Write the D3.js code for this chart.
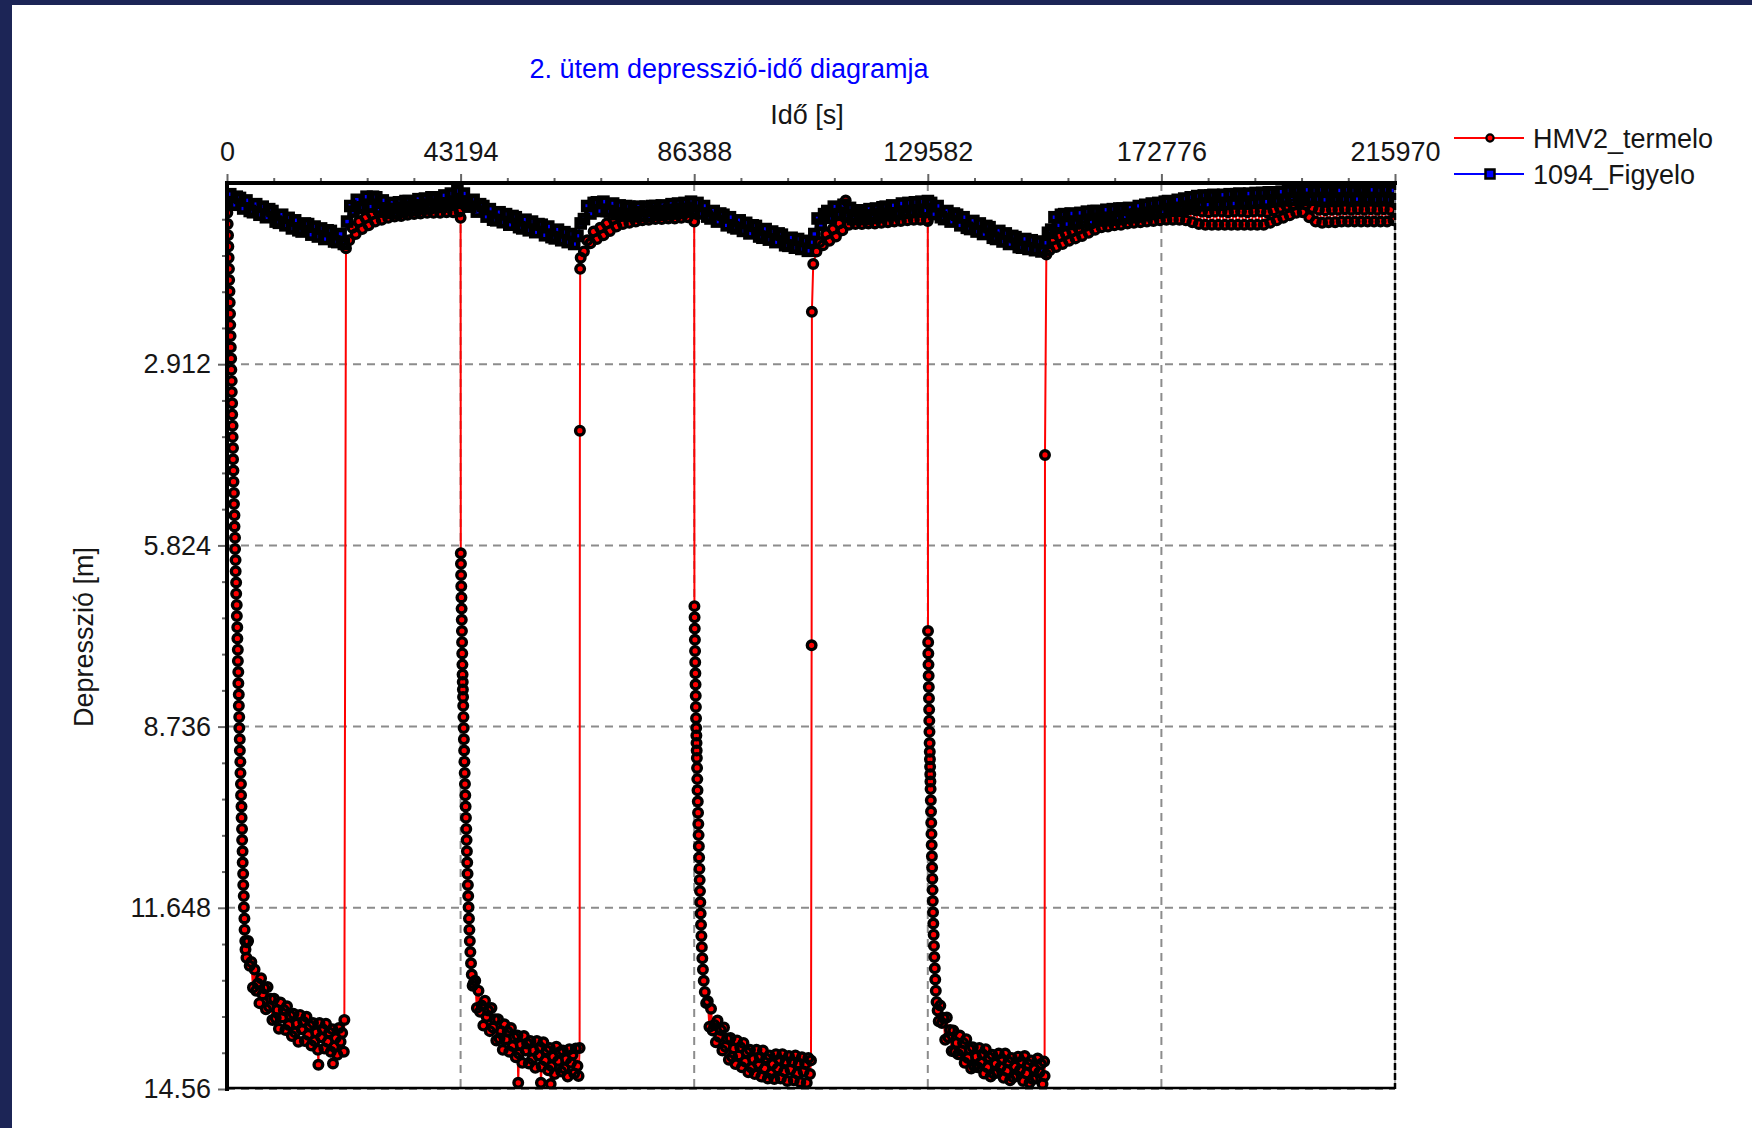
<!DOCTYPE html>
<html>
<head>
<meta charset="utf-8">
<script src="https://cdn.jsdelivr.net/npm/d3@7"></script>
<style>
body { margin: 0; background: #fff; }
svg text { font-family: "Liberation Sans", Arial, sans-serif; font-size: 27px; }
</style>
</head>
<body>
<svg id="chart" width="1762" height="1128"></svg>
<script>
const chartTitle = "2. ütem depresszió-idő diagramja";
const xTitle = "Idő [s]";
const yTitle = "Depresszió [m]";
const xTicks = [0, 43194, 86388, 129582, 172776, 215970];
const yTicks = [2.912, 5.824, 8.736, 11.648, 14.56];
const seriesNames = ["HMV2_termelo", "1094_Figyelo"];

// HMV2_termelo : [time s, depression m]
const hmv2Pump1 = [[0,.30],[60,.48],[120,.66],[190,.84],[250,1.02],[300,1.20],[360,1.38],[400,1.56],[460,1.74],[500,1.92],[560,2.10],[600,2.28],[660,2.46],[700,2.64],[770,2.82],[800,3.00],[870,3.18],[880,3.36],[950,3.54],[960,3.72],[1030,3.90],[1040,4.08],[1110,4.26],[1120,4.44],[1190,4.62],[1200,4.80],[1280,4.98],[1290,5.16],[1380,5.34],[1390,5.52],[1480,5.70],[1490,5.88],[1580,6.06],[1600,6.24],[1690,6.42],[1700,6.60],[1800,6.78],[1820,6.96],[1900,7.14],[1920,7.32],[2000,7.50],[2010,7.68],[2090,7.86],[2100,8.04],[2180,8.22],[2190,8.40],[2260,8.58],[2280,8.76],[2360,8.94],[2380,9.12],[2470,9.30],[2490,9.48],[2580,9.66],[2600,9.84],[2680,10.02],[2700,10.20],[2780,10.38],[2800,10.56],[2880,10.74],[2900,10.92],[2990,11.10],[3010,11.28],[3100,11.46],[3120,11.64],[3220,11.82],[3250,12.00],[3380,12.18],[3420,12.32],[3600,12.45],[3700,12.20],
  [3900,12.18],[4200,12.58],[4500,12.52],[4800,12.93],[5100,12.64],[5400,12.98],[5700,12.87],[6000,13.18],[6300,12.78],[6600,13.04],[6900,12.94],[7200,13.28],[7500,12.92],[7800,13.24],[8100,13.11],[8400,13.45],[8700,13.11],[9000,13.42],[9300,13.29],[9600,13.59],[9900,13.17],[10200,13.41],[10500,13.29],[10800,13.61],[11100,13.23],[11400,13.53],[11700,13.38],[12000,13.71],[12300,13.35],[12600,13.65],[12900,13.51],[13200,13.80],[13500,13.37],[13800,13.60],[14100,13.48],[14400,13.79],[14700,13.40],[15000,13.69],[15300,13.54],[15600,13.86],[15900,13.50],[16200,13.79],[16500,13.65],[16800,13.93],[16900,14.17],[17100,13.50],[17400,13.73],[17700,13.60],[18000,13.91],[18300,13.51],[18600,13.80],[18900,13.65],[19200,13.96],[19500,13.60],[19600,14.15],[19800,13.88],[20100,13.74],[20400,14.01],[20700,13.58],[21000,13.80],[21300,13.66],[21600,13.96],[21700,13.45]];
const hmv2Rest1 = [[22000,1.05],[22600,.92],[23200,.72],[23800,.82],[24400,.62],[25000,.74],[25600,.56],[26200,.68],[26800,.50],[27400,.62],[28000,.46],[28600,.59],[29200,.44],[29800,.56],[30400,.41],[31000,.54],[31600,.39],[32200,.53],[32800,.37],[33400,.51],[34000,.36],[34600,.50],[35200,.35],[35800,.49],[36400,.34],[37000,.48],[37600,.33],[38200,.48],[38800,.33],[39400,.48],[40000,.32],[40600,.47],[41200,.31],[41800,.47],[42400,.30],[43000,.46],[43194,.56]];
const hmv2Pump2 = [[43230,5.95],[43260,6.12],[43290,6.30],[43320,6.48],[43350,6.66],[43380,6.84],[43410,7.02],[43440,7.20],[43470,7.38],[43500,7.56],[43530,7.74],[43560,7.90],[43590,8.02],[43620,8.14],[43650,8.26],[43680,8.40],[43720,8.58],[43760,8.76],[43800,8.94],[43850,9.12],[43900,9.30],[43950,9.48],[44000,9.66],[44060,9.84],[44120,10.02],[44180,10.20],[44240,10.38],[44300,10.56],[44360,10.74],[44420,10.92],[44480,11.10],[44540,11.28],[44600,11.46],[44670,11.64],[44740,11.82],[44820,12.00],[44900,12.18],[45000,12.36],[45120,12.54],[45260,12.72],[45420,12.90],
  [45600,12.86],[45900,12.82],[46200,13.26],[46500,12.98],[46800,13.32],[47100,13.22],[47400,13.54],[47700,13.14],[48000,13.40],[48300,13.30],[48600,13.63],[48900,13.26],[49200,13.57],[49500,13.44],[49800,13.78],[50100,13.44],[50400,13.75],[50700,13.63],[51000,13.93],[51300,13.52],[51600,13.76],[51900,13.64],[52200,13.96],[52500,13.58],[52800,13.87],[53100,13.73],[53400,14.05],[53700,13.70],[53850,14.46],[54000,13.99],[54300,13.85],[54600,14.14],[54900,13.71],[55200,13.94],[55500,13.83],[55800,14.15],[56100,13.79],[56400,14.08],[56700,13.94],[57000,14.22],[57300,13.79],[57600,14.02],[57900,13.89],[58050,14.46],[58200,14.20],[58500,13.81],[58800,14.10],[59100,13.94],[59400,14.26],[59700,13.90],[59850,14.48],[60000,14.19],[60300,14.04],[60600,14.32],[60900,13.88],[61200,14.11],[61500,13.97],[61800,14.28],[62100,13.94],[62400,14.23],[62700,14.08],[63000,14.36],[63300,13.92],[63600,14.14],[63900,14.01],[64200,14.31],[64500,13.91],[64800,14.19],[65000,14.35],[65200,13.90]];
const hmv2Rest2 = [[65250,3.98],[65300,1.38],[65400,1.20],[66000,1.10],[66600,.92],[67200,.97],[67800,.78],[68400,.90],[69000,.72],[69600,.84],[70200,.65],[70800,.77],[71400,.58],[72000,.70],[72600,.53],[73200,.66],[73800,.50],[74400,.64],[75000,.48],[75600,.62],[76200,.46],[76800,.60],[77400,.45],[78000,.59],[78600,.44],[79200,.58],[79800,.43],[80400,.58],[81000,.43],[81600,.57],[82200,.42],[82800,.57],[83400,.41],[84000,.56],[84600,.41],[85200,.55],[85800,.40],[86388,.62]];
const hmv2Pump3 = [[86430,6.80],[86460,6.98],[86490,7.16],[86520,7.34],[86550,7.52],[86580,7.70],[86610,7.88],[86640,8.06],[86670,8.24],[86700,8.42],[86730,8.60],[86760,8.76],[86790,8.88],[86820,9.00],[86850,9.12],[86880,9.24],[86920,9.40],[86960,9.58],[87000,9.76],[87050,9.94],[87100,10.12],[87150,10.30],[87200,10.48],[87250,10.66],[87300,10.84],[87350,11.02],[87400,11.20],[87460,11.38],[87520,11.56],[87580,11.74],[87650,11.92],[87720,12.10],[87800,12.28],[87890,12.46],[88000,12.64],[88150,12.82],[88350,13.00],[88600,13.18],
  [88900,13.15],[89200,13.56],[89500,13.27],[89800,13.62],[90100,13.53],[90400,13.81],[90700,13.46],[91000,13.72],[91300,13.61],[91600,13.94],[91900,13.57],[92200,13.88],[92500,13.75],[92800,14.09],[93100,13.74],[93400,14.04],[93700,13.91],[94000,14.16],[94300,13.78],[94600,14.02],[94900,13.89],[95200,14.21],[95500,13.82],[95800,14.12],[96100,13.97],[96400,14.29],[96700,13.93],[97000,14.22],[97300,14.08],[97600,14.32],[97900,13.93],[98200,14.16],[98500,14.05],[98800,14.36],[99100,13.94],[99400,14.23],[99700,14.07],[100000,14.39],[100300,14.02],[100600,14.31],[100900,14.16],[101200,14.40],[101500,14.00],[101800,14.23],[102100,14.09],[102400,14.39],[102700,14.00],[103000,14.28],[103300,14.12],[103600,14.43],[103900,14.03],[104200,14.25],[104500,14.12],[104800,14.42],[105100,14.02],[105400,14.31],[105700,14.15],[106000,14.45],[106300,14.05],[106600,14.28],[106900,14.16],[107200,14.46],[107500,14.06],[107800,14.32],[107985,14.10]];
const hmv2Rest3 = [[108100,7.43],[108150,2.07],[108400,1.30],[109000,1.10],[109600,.95],[110200,1.00],[110800,.82],[111400,.93],[112000,.74],[112600,.86],[113200,.65],[113800,.76],[114400,.28],[115000,.67],[115600,.52],[116200,.66],[116800,.51],[117400,.66],[118000,.50],[118600,.65],[119200,.50],[119800,.65],[120400,.49],[121000,.64],[121600,.49],[122200,.63],[122800,.48],[123400,.62],[124000,.47],[124600,.61],[125200,.46],[125800,.60],[126400,.45],[127000,.59],[127600,.45],[128200,.59],[128800,.44],[129400,.59],[129582,.61]];
const hmv2Pump4 = [[129620,7.20],[129650,7.38],[129680,7.56],[129710,7.74],[129740,7.92],[129770,8.10],[129800,8.28],[129830,8.46],[129860,8.64],[129890,8.82],[129920,9.00],[129950,9.14],[129980,9.26],[130010,9.38],[130040,9.50],[130070,9.62],[130100,9.74],[130140,9.92],[130180,10.10],[130220,10.28],[130260,10.46],[130300,10.64],[130340,10.82],[130380,11.00],[130420,11.18],[130460,11.36],[130500,11.54],[130550,11.72],[130600,11.90],[130660,12.08],[130720,12.26],[130790,12.44],[130870,12.62],[130960,12.80],[131060,12.98],[131200,13.16],[131400,13.30],
  [131600,13.47],[131900,13.22],[132200,13.50],[132500,13.42],[132800,13.77],[133100,13.41],[133400,13.73],[133700,13.61],[134000,13.95],[134300,13.62],[134600,13.96],[134900,13.82],[135200,14.00],[135500,13.70],[135800,13.94],[136100,13.82],[136400,14.14],[136700,13.76],[137000,14.06],[137300,13.92],[137600,14.23],[137900,13.89],[138200,14.20],[138500,14.04],[138800,14.21],[139100,13.90],[139400,14.13],[139700,14.00],[140000,14.31],[140300,13.92],[140600,14.21],[140900,14.05],[141200,14.36],[141500,14.01],[141800,14.31],[142100,14.15],[142400,14.30],[142700,13.99],[143000,14.21],[143300,14.08],[143600,14.38],[143900,13.99],[144200,14.27],[144500,14.12],[144800,14.42],[145100,14.06],[145400,14.37],[145700,14.20],[146000,14.35],[146300,14.04],[146600,14.26],[146900,14.12],[147200,14.43],[147500,14.03],[147800,14.31],[148100,14.16],[148400,14.46],[148700,14.10],[149000,14.40],[149300,14.24],[149600,14.39],[149900,14.07],[150200,14.29],[150500,14.16],[150800,14.48],[151100,14.12],[151179,14.35]];
const hmv2Rest4 = [[151250,4.37],[151500,1.15],[152100,1.08],[152700,.90],[153300,1.03],[153900,.86],[154500,.98],[155100,.82],[155700,.93],[156300,.78],[156900,.89],[157500,.74],[158100,.85],[158700,.69],[159300,.80],[159900,.65],[160500,.75],[161100,.60],[161700,.71],[162300,.56],[162900,.70],[163500,.55],[164100,.68],[164700,.53],[165300,.67],[165900,.52],[166500,.65],[167100,.50],[167700,.64],[168300,.49],[168900,.63],[169500,.48],[170100,.62],[170700,.46],[171300,.61],[171900,.45],[172500,.60],[173100,.44],[173700,.59],[174300,.44],[174900,.59],[175500,.42],[176100,.59],[176700,.42],[177300,.60],[177900,.42],[178500,.63],[179100,.44],[179700,.66],[180300,.46],[180900,.67],[181500,.47],[182100,.67],[182700,.46],[183300,.67],[183900,.46],[184500,.67],[185100,.47],[185700,.67],[186300,.46],[186900,.67],[187500,.46],[188100,.67],[188700,.47],[189300,.67],[189900,.46],[190500,.67],[191100,.46],[191700,.67],[192300,.47],[192900,.64],[193500,.44],[194100,.60],[194700,.40],[195300,.56],[195900,.37],[196500,.52],[197100,.34],[197700,.48],[198300,.32],[198900,.47],[199500,.34],[200100,.55],[200700,.40],[201300,.62],[201900,.43],[202500,.64],[203100,.44],[203700,.63],[204300,.43],[204900,.63],[205500,.43],[206100,.62],[206700,.42],[207300,.62],[207900,.43],[208500,.62],[209100,.42],[209700,.62],[210300,.43],[210900,.62],[211500,.42],[212100,.62],[212700,.43],[213300,.62],[213900,.42],[214500,.62],[215100,.43],[215700,.60],[215970,.56]];

// 1094_Figyelo : [time s, depression m]
const figyelo1 = [[0,.31],[600,.18],[1200,.35],[1800,.22],[2400,.24],[3000,.41],[3600,.28],[4200,.45],[4800,.47],[5400,.34],[6000,.51],[6600,.38],[7200,.55],[7800,.42],[8400,.45],[9000,.62],[9600,.64],[10200,.51],[10800,.68],[11400,.56],[12000,.73],[12600,.60],[13200,.76],[13800,.78],[14400,.65],[15000,.66],[15600,.83],[16200,.70],[16800,.86],[17400,.73],[18000,.90],[18600,.76],[19200,.77],[19800,.94],[20400,.95],[21000,.82],[21600,.98]];
const figyelo2 = [[22200,.62],[22800,.37],[23400,.46],[24000,.27],[24600,.40],[25200,.39],[25800,.22],[26400,.38],[27000,.22],[27600,.23],[28200,.41],[28800,.28],[29400,.46],[30000,.48],[30600,.32],[31200,.48],[31800,.31],[32400,.46],[33000,.29],[33600,.29],[34200,.44],[34800,.43],[35400,.26],[36000,.41],[36600,.25],[37200,.40],[37800,.23],[38400,.23],[39000,.38],[39600,.38],[40200,.20],[40800,.35],[41400,.17],[42000,.31],[42600,.13],[43200,.30]];
const figyelo3 = [[43800,.17],[44400,.34],[45000,.38],[45600,.27],[46200,.46],[46800,.34],[47400,.37],[48000,.54],[48600,.42],[49200,.59],[49800,.60],[50400,.47],[51000,.63],[51600,.50],[52200,.67],[52800,.53],[53400,.55],[54000,.71],[54600,.73],[55200,.59],[55800,.76],[56400,.62],[57000,.79],[57600,.66],[58200,.67],[58800,.84],[59400,.70],[60000,.87],[60600,.89],[61200,.75],[61800,.92],[62400,.79],[63000,.95],[63600,.82],[64200,.98],[64800,.85]];
const figyelo4 = [[65400,.65],[66000,.58],[66600,.37],[67200,.49],[67800,.32],[68400,.31],[69000,.45],[69600,.30],[70200,.45],[70800,.46],[71400,.33],[72000,.50],[72600,.36],[73200,.52],[73800,.37],[74400,.38],[75000,.53],[75600,.53],[76200,.38],[76800,.53],[77400,.38],[78000,.53],[78600,.37],[79200,.37],[79800,.51],[80400,.36],[81000,.50],[81600,.50],[82200,.34],[82800,.49],[83400,.33],[84000,.48],[84600,.32],[85200,.46],[85800,.30],[86400,.45]];
const figyelo5 = [[87000,.32],[87600,.49],[88200,.37],[88800,.54],[89400,.57],[90000,.45],[90600,.62],[91200,.49],[91800,.51],[92400,.68],[93000,.55],[93600,.71],[94200,.73],[94800,.60],[95400,.77],[96000,.64],[96600,.81],[97200,.68],[97800,.69],[98400,.86],[99000,.88],[99600,.74],[100200,.91],[100800,.78],[101400,.95],[102000,.81],[102600,.83],[103200,1.00],[103800,1.01],[104400,.88],[105000,1.04],[105600,.90],[106200,1.06],[106800,.93],[107400,1.09],[108000,.95]];
const figyelo6 = [[108600,.82],[109200,.57],[109800,.67],[110400,.50],[111000,.45],[111600,.56],[112200,.38],[112800,.51],[113400,.50],[114000,.35],[114600,.52],[115200,.40],[115800,.58],[116400,.44],[117000,.44],[117600,.58],[118200,.57],[118800,.42],[119400,.56],[120000,.41],[120600,.55],[121200,.39],[121800,.38],[122400,.52],[123000,.36],[123600,.50],[124200,.49],[124800,.33],[125400,.48],[126000,.32],[126600,.47],[127200,.31],[127800,.46],[128400,.30],[129000,.44],[129600,.29]];
const figyelo7 = [[130200,.32],[130800,.50],[131400,.37],[132000,.55],[132600,.58],[133200,.45],[133800,.62],[134400,.49],[135000,.51],[135600,.68],[136200,.55],[136800,.72],[137400,.74],[138000,.61],[138600,.78],[139200,.65],[139800,.82],[140400,.69],[141000,.71],[141600,.88],[142200,.90],[142800,.77],[143400,.94],[144000,.81],[144600,.98],[145200,.85],[145800,.87],[146400,1.03],[147000,1.04],[147600,.90],[148200,1.06],[148800,.92],[149400,1.08],[150000,.94],[150600,1.10],[151200,.96]];
const figyelo8 = [[151800,.80],[152400,.75],[153000,.55],[153600,.68],[154200,.51],[154800,.50],[155400,.66],[156000,.49],[156600,.65],[157200,.64],[157800,.48],[158400,.63],[159000,.46],[159600,.62],[160200,.45],[160800,.45],[161400,.60],[162000,.60],[162600,.43],[163200,.59],[163800,.42],[164400,.58],[165000,.41],[165600,.41],[166200,.56],[166800,.40],[167400,.55],[168000,.54],[168600,.37],[169200,.52],[169800,.35],[170400,.50],[171000,.33],[171600,.48],[172200,.32],[172800,.47],[173400,.30],[174000,.29],[174600,.44],[175200,.44],[175800,.27],[176400,.42],[177000,.25],[177600,.40],[178200,.23],[178800,.38],[179400,.21],[180000,.36],[180600,.20],[181200,.35],[181800,.20],[182400,.19],[183000,.35],[183600,.34],[184200,.19],[184800,.34],[185400,.18],[186000,.33],[186600,.18],[187200,.17],[187800,.33],[188400,.32],[189000,.17],[189600,.32],[190200,.16],[190800,.31],[191400,.16],[192000,.30],[192600,.15],[193200,.15],[193800,.29],[194400,.29],[195000,.14],[195600,.28],[196200,.12],[196800,.27],[197400,.12],[198000,.11],[198600,.27],[199200,.26],[199800,.11],[200400,.27],[201000,.12],[201600,.26],[202200,.11],[202800,.27],[203400,.12],[204000,.11],[204600,.26],[205200,.27],[205800,.12],[206400,.26],[207000,.11],[207600,.27],[208200,.12],[208800,.26],[209400,.11],[210000,.12],[210600,.27],[211200,.26],[211800,.11],[212400,.27],[213000,.12],[213600,.26],[214200,.11],[214800,.27],[215400,.12],[215970,.26]];

const hmv2 = [].concat(hmv2Pump1, hmv2Rest1, hmv2Pump2, hmv2Rest2, hmv2Pump3, hmv2Rest3, hmv2Pump4, hmv2Rest4);
const figyelo = [].concat(figyelo1, figyelo2, figyelo3, figyelo4, figyelo5, figyelo6, figyelo7, figyelo8);

const W = 1762, H = 1128;
const plotLeft = 227, plotRight = 1395, plotTop = 183, plotBottom = 1089;
const navy = "#1c2556";
const red = "#ff0000", blue = "#0000ff";

const svg = d3.select("#chart");
const x = d3.scaleLinear().domain([0, 215970]).range([plotLeft, plotRight]);
const y = d3.scaleLinear().domain([0, 14.56]).range([plotTop, plotBottom]);

// page frame
svg.append("rect").attr("width", W).attr("height", H).attr("fill", "#fff");
svg.append("rect").attr("width", 12).attr("height", H).attr("fill", navy);
svg.append("rect").attr("width", 1752).attr("height", 5).attr("fill", navy);

// dashed grid
const grid = svg.append("g")
    .attr("stroke", "#8c8c8c")
    .attr("stroke-width", 2)
    .attr("stroke-dasharray", "8,6");
grid.selectAll("line.gy").data(yTicks).enter().append("line")
    .attr("class", "gy")
    .attr("x1", plotLeft).attr("x2", plotRight)
    .attr("y1", d => y(d)).attr("y2", d => y(d));
grid.selectAll("line.gx").data(xTicks.slice(1, -1)).enter().append("line")
    .attr("class", "gx")
    .attr("x1", d => x(d)).attr("x2", d => x(d))
    .attr("y1", plotTop).attr("y2", plotBottom);

// data, clipped to the plot box
svg.append("defs").append("clipPath").attr("id", "plotClip")
    .append("rect")
    .attr("x", plotLeft).attr("y", plotTop)
    .attr("width", plotRight - plotLeft + 1).attr("height", plotBottom - plotTop);
const plot = svg.append("g").attr("clip-path", "url(#plotClip)");
const line = d3.line().x(d => x(d[0])).y(d => y(d[1]));

// lines first, then all marker fills, then all marker outlines on top,
// so the dense stretches merge into the black bands of the original
plot.append("path").datum(hmv2)
    .attr("d", line).attr("fill", "none")
    .attr("stroke", red).attr("stroke-width", 2);
plot.append("path").datum(figyelo)
    .attr("d", line).attr("fill", "none")
    .attr("stroke", blue).attr("stroke-width", 2);

plot.append("g").selectAll("circle").data(hmv2).enter().append("circle")
    .attr("cx", d => x(d[0])).attr("cy", d => y(d[1]))
    .attr("r", 4.3).attr("fill", red);
plot.append("g").selectAll("rect").data(figyelo).enter().append("rect")
    .attr("x", d => x(d[0]) - 4).attr("y", d => y(d[1]) - 4)
    .attr("width", 8).attr("height", 8)
    .attr("fill", blue);

plot.append("g").selectAll("circle").data(hmv2).enter().append("circle")
    .attr("cx", d => x(d[0])).attr("cy", d => y(d[1]))
    .attr("r", 4.3).attr("fill", "none")
    .attr("stroke", "#000").attr("stroke-width", 3.4);
plot.append("g").selectAll("rect").data(figyelo).enter().append("rect")
    .attr("x", d => x(d[0]) - 4).attr("y", d => y(d[1]) - 4)
    .attr("width", 8).attr("height", 8)
    .attr("fill", "none").attr("stroke", "#000").attr("stroke-width", 4.6);

// axes: labels on top and left
function minorTicks(major) {
    var arr = [];
    for (var i = 0; i < major.length - 1; i++) {
        for (var k = 1; k < 5; k++) {
            arr.push(major[i] + (major[i + 1] - major[i]) * k / 5);
        }
    }
    return arr;
}
const xMinor = minorTicks(xTicks);
const yMinor = minorTicks([0].concat(yTicks));

const gxMinor = svg.append("g").attr("transform", `translate(0,${plotTop})`)
    .call(d3.axisTop(x).tickValues(xMinor).tickSize(5).tickFormat(""));
const gx = svg.append("g").attr("transform", `translate(0,${plotTop})`)
    .call(d3.axisTop(x).tickValues(xTicks).tickSize(9).tickPadding(13).tickFormat(d => String(d)));
const gyMinor = svg.append("g").attr("transform", `translate(${plotLeft},0)`)
    .call(d3.axisLeft(y).tickValues(yMinor).tickSize(5).tickFormat(""));
const gy = svg.append("g").attr("transform", `translate(${plotLeft},0)`)
    .call(d3.axisLeft(y).tickValues(yTicks).tickSize(9).tickPadding(7).tickFormat(d => String(d)));

[gxMinor, gx, gyMinor, gy].forEach(g => {
    g.select(".domain").remove();
    g.attr("font-size", null).attr("font-family", null);
    g.selectAll(".tick line").attr("stroke", "#666").attr("stroke-width", 2);
    g.selectAll(".tick text").attr("fill", "#161616");
});

// frame lines
svg.append("line")
    .attr("x1", plotRight).attr("x2", plotRight).attr("y1", plotTop).attr("y2", plotBottom)
    .attr("stroke", "#9a9a9a").attr("stroke-width", 1.5);
svg.append("line")
    .attr("x1", plotRight).attr("x2", plotRight).attr("y1", plotTop).attr("y2", plotBottom)
    .attr("stroke", "#000").attr("stroke-width", 2.5).attr("stroke-dasharray", "7,3");
svg.append("line")
    .attr("x1", plotLeft).attr("x2", plotRight).attr("y1", plotBottom - 1).attr("y2", plotBottom - 1)
    .attr("stroke", "#000").attr("stroke-width", 2.5);
svg.append("line")
    .attr("x1", plotLeft - 2).attr("x2", plotRight + 2).attr("y1", plotTop).attr("y2", plotTop)
    .attr("stroke", "#000").attr("stroke-width", 4);
svg.append("line")
    .attr("x1", plotLeft).attr("x2", plotLeft).attr("y1", plotTop - 2).attr("y2", plotBottom + 2)
    .attr("stroke", "#000").attr("stroke-width", 4);

// titles
svg.append("text")
    .attr("x", 729).attr("y", 78)
    .attr("text-anchor", "middle")
    .attr("fill", blue)
    .text(chartTitle);
svg.append("text")
    .attr("x", 807).attr("y", 124)
    .attr("text-anchor", "middle")
    .attr("fill", "#161616")
    .text(xTitle);
svg.append("text")
    .attr("transform", "translate(93,637) rotate(-90)")
    .attr("text-anchor", "middle")
    .attr("fill", "#161616")
    .text(yTitle);

// legend
const legendRows = [
    { name: seriesNames[0], color: red, y: 138, shape: "circle" },
    { name: seriesNames[1], color: blue, y: 174, shape: "square" }
];
const legend = svg.append("g");
legendRows.forEach(row => {
    legend.append("line")
        .attr("x1", 1454).attr("x2", 1524).attr("y1", row.y).attr("y2", row.y)
        .attr("stroke", row.color).attr("stroke-width", 2);
    if (row.shape === "circle") {
        legend.append("circle")
            .attr("cx", 1490).attr("cy", row.y).attr("r", 3.6)
            .attr("fill", row.color).attr("stroke", "#000").attr("stroke-width", 2.2);
    } else {
        legend.append("rect")
            .attr("x", 1485.5).attr("y", row.y - 4.5).attr("width", 9).attr("height", 9)
            .attr("fill", row.color).attr("stroke", "#000").attr("stroke-width", 2.5);
    }
    legend.append("text")
        .attr("x", 1533).attr("y", row.y).attr("dy", "0.36em")
        .attr("fill", "#161616")
        .text(row.name);
});
</script>
</body>
</html>
